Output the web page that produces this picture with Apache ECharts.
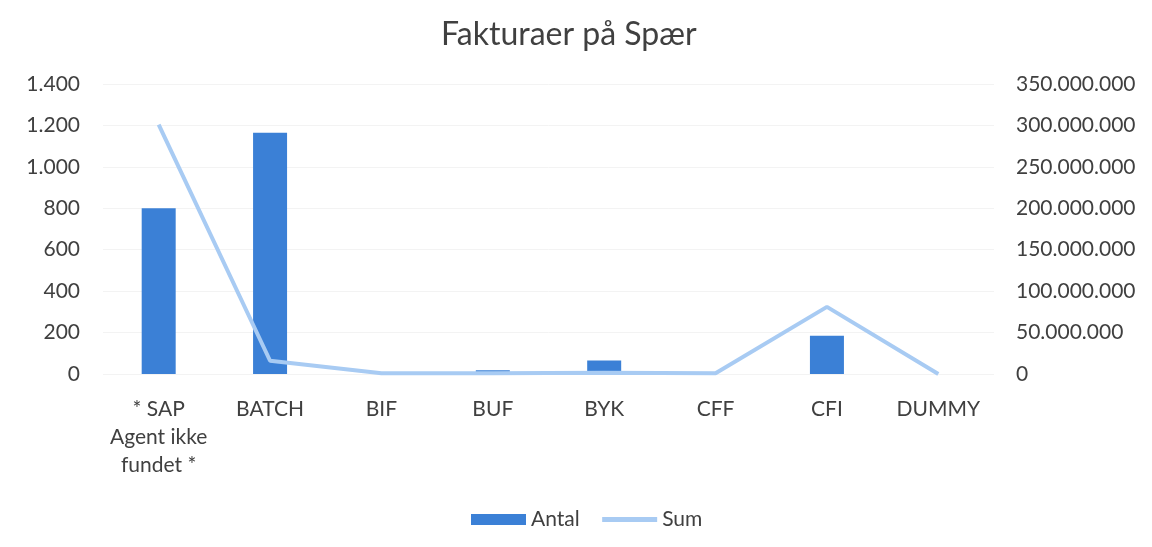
<!DOCTYPE html>
<html><head><meta charset="utf-8">
<script src="https://cdn.jsdelivr.net/npm/echarts@6/dist/echarts.min.js"></script>
<style>html,body{margin:0;padding:0;background:#fff}#c{width:1152px;height:547px}</style>
</head><body><div id="c"></div>
<script>
const categories = ['* SAP Agent ikke fundet *','BATCH','BIF','BUF','BYK','CFF','CFI','DUMMY'];
const antal = [800, 1165, 0, 18, 65, 0, 185, 0];
const sum = [301000000, 16000000, 1000000, 1000000, 1500000, 1000000, 81000000, 0];
const leftTicks = [0, 200, 400, 600, 800, 1000, 1200, 1400];
const rightTicks = [0, 50000000, 100000000, 150000000, 200000000, 250000000, 300000000, 350000000];

function fmt(v){ return String(Math.round(v)).replace(/\B(?=(\d{3})+(?!\d))/g, '.'); }
const txt = '#404040';
const font = 'Lato, "Open Sans", sans-serif';
const chart = echarts.init(document.getElementById('c'));
chart.setOption({
  backgroundColor: '#fff',
  animation: false,
  title: { text: 'Fakturaer på Spær', left: 436, top: 14,
    textStyle: { fontFamily: font, fontSize: 32, fontWeight: 'normal', color: txt } },
  legend: { bottom: 12, left: 466, itemGap: 20, itemWidth: 55, itemHeight: 11,
    textStyle: { fontFamily: font, fontSize: 21, color: txt, padding: [0,0,0,0] },
    data: [{ name: 'Antal', icon: 'rect' },
           { name: 'Sum', itemStyle: { opacity: 0 }, lineStyle: { width: 5 } }] },
  grid: { left: 103, right: 158, top: 84, bottom: 173 },
  xAxis: { type: 'category', data: categories,
    axisLine: { show: false }, axisTick: { show: false },
    axisLabel: { interval: 0, margin: 21, lineHeight: 28, fontFamily: font, fontSize: 21, color: txt,
      formatter: v => v === categories[0] ? '* SAP\nAgent ikke\nfundet *' : v } },
  yAxis: [
    { type: 'value', min: leftTicks[0], max: leftTicks[leftTicks.length-1], interval: 200,
      axisLine: { show: false }, axisTick: { show: false },
      splitLine: { lineStyle: { color: '#f3f3f3', width: 1 } },
      axisLabel: { margin: 23, fontFamily: font, fontSize: 21, color: txt, formatter: fmt } },
    { type: 'value', min: rightTicks[0], max: rightTicks[rightTicks.length-1], interval: 50000000,
      axisLine: { show: false }, axisTick: { show: false }, splitLine: { show: false },
      axisLabel: { margin: 22, fontFamily: font, fontSize: 21, color: txt, formatter: fmt } }
  ],
  series: [
    { name: 'Antal', type: 'bar', data: antal, barWidth: 34, yAxisIndex: 0,
      itemStyle: { color: '#3b80d6' } },
    { name: 'Sum', type: 'line', data: sum, yAxisIndex: 1, symbol: 'none',
      lineStyle: { color: '#a8cbf3', width: 4 }, itemStyle: { color: '#a8cbf3' } }
  ]
});
</script></body></html>
